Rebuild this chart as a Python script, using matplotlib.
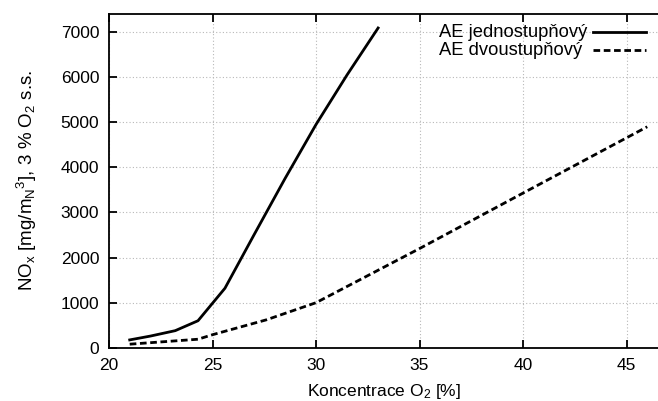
import matplotlib
matplotlib.use("Agg")
import matplotlib.pyplot as plt

plt.rcParams["font.family"] = ["Liberation Sans", "DejaVu Sans"]
plt.rcParams["mathtext.fontset"] = "custom"
plt.rcParams["mathtext.rm"] = "Liberation Sans"
plt.rcParams["mathtext.it"] = "Liberation Sans"

# AE jednostupnovy
x_one = [21.0, 22.0, 23.2, 24.3, 25.6, 27.0, 28.5, 30.0, 31.5, 33.0]
y_one = [175, 260, 380, 600, 1320, 2500, 3750, 4950, 6050, 7090]

# AE dvoustupnovy
x_two = [21.0, 24.3, 25.0, 27.6, 30.0, 35.0, 40.0, 46.0]
y_two = [80, 190, 290, 620, 1000, 2200, 3430, 4900]

labels = ["AE jednostupňový", "AE dvoustupňový"]
styles = ["-", (0, (2.4, 1.3))]

fig = plt.figure(figsize=(6.58, 4.01), dpi=100)
ax = fig.add_axes([109 / 658, 53.2 / 401, 549 / 658, 333.8 / 401])

ax.plot(x_one, y_one, color="black", lw=2.0, ls=styles[0])
ax.plot(x_two, y_two, color="black", lw=2.0, ls=styles[1])

ax.set_xlim(20, 46.52)
ax.set_ylim(0, 7400)
ax.set_xticks([20, 25, 30, 35, 40, 45])
ax.set_yticks(range(0, 7001, 1000))

ax.grid(True, color="#b8b8b8", ls=(0, (1, 2)), lw=0.8)
ax.spines["right"].set_visible(False)
for s in ["left", "top", "bottom"]:
    ax.spines[s].set_linewidth(1.3)
ax.tick_params(direction="in", length=6, width=1.3, top=True, right=False,
               labelsize=12.5, pad=7)

ax.set_xlabel("Koncentrace O$_2$ [%]", fontsize=12.5, labelpad=7)
ax.set_ylabel("NO$_\\mathrm{x}$ [mg/m$_\\mathrm{N}$$^3$], 3 % O$_2$ s.s.",
              fontsize=13.5)
ax.yaxis.set_label_coords(-0.128, 0.5)

# legend drawn gnuplot-style: text on the left, sample line on the right
rows_y = [0.946, 0.892]
for lab, st, yy in zip(labels, styles, rows_y):
    ax.text(0.601, yy, lab, transform=ax.transAxes, fontsize=13.2,
            ha="left", va="center")
    ax.plot([0.882, 0.978], [yy, yy], transform=ax.transAxes, color="black",
            lw=2.0, ls=st, clip_on=False)

fig.savefig("out.png", dpi=100)
